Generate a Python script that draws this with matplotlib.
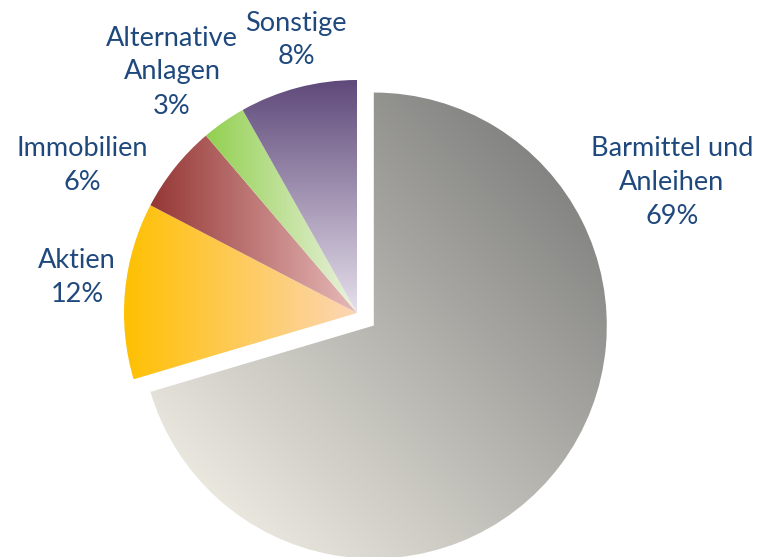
import matplotlib
matplotlib.use('Agg')
import matplotlib.pyplot as plt
import numpy as np
from matplotlib.colors import to_rgb

# data
labels = ['Barmittel und\nAnleihen', 'Aktien', 'Immobilien', 'Alternative\nAnlagen', 'Sonstige']
values = [69, 12, 6, 3, 8]
explode = [0.09, 0, 0, 0, 0]

# gradient colours (start, end) and direction
grad_cols = [('#E9E7DE', '#848482'), ('#FFC000', '#FCD6B6'), ('#953735', '#E7BAB9'),
             ('#92D050', '#ECF2E0'), ('#E6E0EC', '#5F497A')]
grad_dir = ['diag', 'h', 'h', 'h', 'v']

# label positions (pixel coords, y from top)
label_pos = [(672, 182), (77, 278), (82, 165), (172, 72), (296, 40)]

W, H = 757, 557
fig = plt.figure(figsize=(7.57, 5.57), dpi=100)
ax = fig.add_axes([0, 0, 1, 1])

cx, cy, R = 357, H - 313, 233
# pie offsets explode in data units, so scale by radius
wedges, _ = ax.pie(values, explode=[e * R for e in explode], startangle=90, counterclock=False,
                   center=(cx, cy), radius=R, frame=True,
                   wedgeprops=dict(facecolor='none', edgecolor='none', linewidth=0))

n = 300
for w, (c0, c1), d in zip(wedges, grad_cols, grad_dir):
    v = w.get_path().vertices
    x0, x1 = v[:, 0].min(), v[:, 0].max()
    y0, y1 = v[:, 1].min(), v[:, 1].max()
    xx, yy = np.meshgrid(np.linspace(x0, x1, n), np.linspace(y0, y1, n))
    if d == 'h':
        t = (xx - x0) / (x1 - x0)
    elif d == 'v':
        t = (yy - y0) / (y1 - y0)
    else:
        # diagonal across the full circle of this wedge
        wx, wy = w.center
        t = 0.5 + ((xx - wx) + (yy - wy)) / np.sqrt(2) / (2 * R)
    t = np.clip(t, 0, 1)
    a, b = np.array(to_rgb(c0)), np.array(to_rgb(c1))
    img = a[None, None, :] * (1 - t[..., None]) + b[None, None, :] * t[..., None]
    im = ax.imshow(img, extent=(x0, x1, y0, y1), origin='lower',
                   interpolation='bilinear', zorder=1)
    im.set_clip_path(w)

for lab, v, (px, py) in zip(labels, values, label_pos):
    ax.text(px, H - py, f'{lab}\n{v}%', ha='center', va='center', color='#1F497D',
            fontsize=19.5, family=['Lato', 'DejaVu Sans'], linespacing=1.45)

ax.set_xlim(0, W)
ax.set_ylim(0, H)
ax.set_aspect('equal')
ax.axis('off')
fig.savefig('out.png', dpi=100, facecolor='white')
